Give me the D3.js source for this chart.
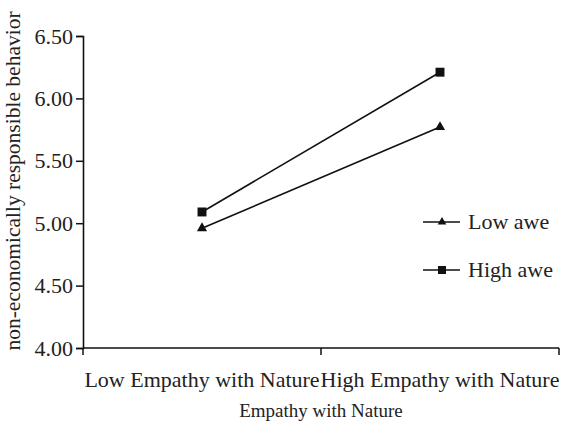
<!DOCTYPE html>
<html>
<head>
<meta charset="utf-8">
<script src="https://cdn.jsdelivr.net/npm/d3@7"></script>
<style>
  body { margin: 0; background: #fff; }
  text { font-family: "Liberation Serif", "Times New Roman", serif; fill: #222; }
</style>
</head>
<body>
<svg width="566" height="431"></svg>
<script>
// data
const categories = ["Low Empathy with Nature", "High Empathy with Nature"];
const lowAwe  = [4.96, 5.77];
const highAwe = [5.09, 6.21];
const yTicks  = [4.0, 4.5, 5.0, 5.5, 6.0, 6.5];

const svg = d3.select("svg");
const margin = { top: 36, right: 6, bottom: 83, left: 83 };
const W = 566 - margin.left - margin.right;
const H = 431 - margin.top - margin.bottom;

const g = svg.append("g").attr("transform", `translate(${margin.left},${margin.top})`);

const x = d3.scaleBand().domain(categories).range([0, W - 1]);
const y = d3.scaleLinear().domain([4, 6.5]).range([H, 0]);

// y axis
const yAxis = g.append("g")
  .call(d3.axisLeft(y).tickValues(yTicks).tickFormat(d3.format(".2f")).tickSize(7));
yAxis.select(".domain").attr("stroke", "#111").attr("stroke-width", 1.6);
yAxis.selectAll(".tick line").attr("stroke", "#111").attr("stroke-width", 1.5);
yAxis.selectAll(".tick text").attr("font-size", 22).attr("x", -10)
  .style("font-family", "Liberation Serif").attr("fill", "#222");

// x axis: ticks on category boundaries
const xg = g.append("g").attr("transform", `translate(0,${H})`);
xg.append("line").attr("x1", 0).attr("x2", W - 1)
  .attr("stroke", "#111").attr("stroke-width", 1.6);
const bounds = [0, x.bandwidth(), W - 1];
xg.selectAll("line.tk").data(bounds).join("line").attr("class", "tk")
  .attr("x1", d => d).attr("x2", d => d).attr("y1", 0).attr("y2", 7)
  .attr("stroke", "#111").attr("stroke-width", 1.5);
xg.selectAll("text.cat").data(categories).join("text").attr("class", "cat")
  .attr("x", d => x(d) + x.bandwidth() / 2).attr("y", 39)
  .attr("text-anchor", "middle").attr("font-size", 22).text(d => d);

// axis titles
g.append("text").attr("x", x.bandwidth()).attr("y", H + 69)
  .attr("text-anchor", "middle").attr("font-size", 19).text("Empathy with Nature");
svg.append("text").attr("transform", "translate(20,181) rotate(-90)")
  .attr("text-anchor", "middle").attr("font-size", 21.5)
  .text("non-economically responsible behavior");

// lines
const cx = c => x(c) + x.bandwidth() / 2;
const line = d3.line().x((d, i) => cx(categories[i])).y(d => y(d));
const series = [
  { name: "Low awe", values: lowAwe, sym: d3.symbolTriangle, size: 45, lsize: 32 },
  { name: "High awe", values: highAwe, sym: d3.symbolSquare, size: 80, lsize: 64 }
];
series.forEach(s => {
  g.append("path").datum(s.values).attr("d", line)
    .attr("fill", "none").attr("stroke", "#111").attr("stroke-width", 1.6);
  g.selectAll(null).data(s.values).join("path")
    .attr("transform", (d, i) => `translate(${cx(categories[i])},${y(d)})`)
    .attr("d", d3.symbol(s.sym, s.size)).attr("fill", "#111");
});

// legend
const leg = svg.append("g").attr("transform", "translate(423,222)");
series.forEach((s, i) => {
  const row = leg.append("g").attr("transform", `translate(0,${i * 48})`);
  row.append("line").attr("x1", 0).attr("x2", 37).attr("stroke", "#111").attr("stroke-width", 1.6);
  row.append("path").attr("transform", "translate(19,0)")
    .attr("d", d3.symbol(s.sym, s.lsize)).attr("fill", "#111");
  row.append("text").attr("x", 45).attr("y", 7).attr("font-size", 22).text(s.name);
});
</script>
</body>
</html>
